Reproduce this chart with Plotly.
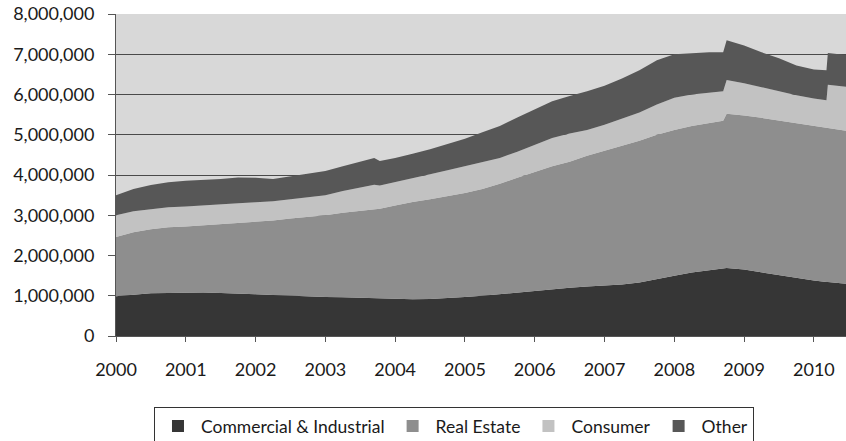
import plotly.graph_objects as go

# fechas en años decimales (trimestrales, con algunos saltos)
ANIOS = [
    2000.00, 2000.25, 2000.50, 2000.75, 2001.00, 2001.25, 2001.50, 2001.75,
    2002.00, 2002.25, 2002.50, 2002.75, 2003.00, 2003.25, 2003.50, 2003.70,
    2003.78, 2004.00, 2004.25, 2004.50, 2004.75, 2005.00, 2005.25, 2005.50,
    2005.75, 2006.00, 2006.25, 2006.50, 2006.75, 2007.00, 2007.25, 2007.50,
    2007.75, 2008.00, 2008.25, 2008.50, 2008.70, 2008.75, 2009.00, 2009.25,
    2009.50, 2009.75, 2010.00, 2010.18, 2010.20, 2010.46,
]

# valores en millones
COMERCIAL = [
    0.99, 1.03, 1.06, 1.07, 1.08, 1.08, 1.07, 1.06,
    1.04, 1.02, 1.00, 0.98, 0.97, 0.96, 0.95, 0.94,
    0.93, 0.92, 0.91, 0.92, 0.94, 0.97, 1.00, 1.04,
    1.08, 1.13, 1.17, 1.20, 1.23, 1.25, 1.28, 1.33,
    1.42, 1.50, 1.58, 1.63, 1.67, 1.69, 1.65, 1.58,
    1.52, 1.45, 1.38, 1.34, 1.34, 1.30,
]
INMOBILIARIO = [
    1.47, 1.55, 1.59, 1.63, 1.64, 1.67, 1.70, 1.74,
    1.79, 1.85, 1.92, 1.98, 2.03, 2.10, 2.16, 2.21,
    2.23, 2.32, 2.42, 2.48, 2.53, 2.58, 2.65, 2.74,
    2.85, 2.94, 3.05, 3.13, 3.25, 3.35, 3.44, 3.52,
    3.58, 3.62, 3.64, 3.67, 3.68, 3.83, 3.83, 3.84,
    3.83, 3.83, 3.84, 3.83, 3.83, 3.80,
]
CONSUMO = [
    0.54, 0.52, 0.50, 0.50, 0.50, 0.50, 0.50, 0.50,
    0.49, 0.48, 0.48, 0.49, 0.50, 0.54, 0.57, 0.61,
    0.58, 0.58, 0.59, 0.62, 0.65, 0.67, 0.67, 0.64,
    0.65, 0.68, 0.70, 0.70, 0.64, 0.65, 0.68, 0.70,
    0.75, 0.80, 0.78, 0.75, 0.73, 0.84, 0.80, 0.76,
    0.73, 0.70, 0.68, 0.69, 1.07, 1.09,
]
OTROS = [
    0.50, 0.55, 0.60, 0.62, 0.64, 0.63, 0.63, 0.64,
    0.61, 0.55, 0.57, 0.58, 0.60, 0.62, 0.65, 0.66,
    0.61, 0.60, 0.61, 0.62, 0.65, 0.68, 0.74, 0.80,
    0.85, 0.88, 0.91, 0.93, 0.96, 0.97, 1.00, 1.05,
    1.10, 1.08, 1.03, 1.00, 0.97, 0.99, 0.94, 0.87,
    0.82, 0.74, 0.72, 0.74, 0.79, 0.79,
]

SERIES = {
    "Commercial & Industrial": (COMERCIAL, "#363636"),
    "Real Estate": (INMOBILIARIO, "#8e8e8e"),
    "Consumer": (CONSUMO, "#c2c2c2"),
    "Other": (OTROS, "#575757"),
}

TICKS_Y = list(range(0, 8000001, 1000000))
TICKS_X = list(range(2000, 2011))

FUENTE = "Lato, 'Noto Sans', sans-serif"
COLOR_TEXTO = "#1a1a1a"

fig = go.Figure()
for nombre, (valores, color) in SERIES.items():
    fig.add_trace(
        go.Scatter(
            x=ANIOS,
            y=[v * 1e6 for v in valores],
            name=nombre,
            mode="lines",
            stackgroup="uno",
            line=dict(width=0, color=color),
            fillcolor=color,
            showlegend=False,
        )
    )
    # cuadrito de la leyenda
    fig.add_trace(
        go.Scatter(
            x=[None],
            y=[None],
            name=nombre,
            mode="markers",
            marker=dict(symbol="square", size=12, color=color),
        )
    )

# la figura es más alta que la ventana: la leyenda queda cortada abajo,
# igual que en el original
fig.update_layout(
    width=846,
    height=470,
    margin=dict(l=116, r=0, t=14, b=134),
    paper_bgcolor="white",
    plot_bgcolor="#d8d8d8",
    font=dict(family=FUENTE, size=18, color=COLOR_TEXTO),
    legend=dict(
        orientation="h",
        x=0.463,
        xanchor="center",
        y=-0.221,
        yanchor="top",
        traceorder="normal",
        bordercolor="#333333",
        borderwidth=1,
        font=dict(size=17.5),
        itemwidth=36,
    ),
)
fig.update_xaxes(
    range=[2000, 2010.46],
    tickvals=TICKS_X,
    ticktext=[str(a) for a in TICKS_X],
    ticks="outside",
    ticklen=5,
    tickcolor="#555555",
    ticklabelstandoff=12,
    showgrid=False,
    showline=True,
    linecolor="#555555",
    zeroline=False,
    automargin=False,
)
fig.update_yaxes(
    range=[0, 8000000],
    tickvals=TICKS_Y,
    tickformat=",",
    ticks="outside",
    ticklen=7,
    tickcolor="#555555",
    ticklabelstandoff=10,
    ticklabeloverflow="allow",
    showgrid=True,
    gridcolor="#4a4a4a",
    gridwidth=1,
    showline=True,
    linecolor="#555555",
    zeroline=False,
    automargin=False,
)

# sin margen en el body ni barras de desplazamiento
fig.write_html(
    "out.html",
    config={"displayModeBar": False},
    post_script="document.body.style.margin = '0'; document.body.style.overflow = 'hidden';",
)
